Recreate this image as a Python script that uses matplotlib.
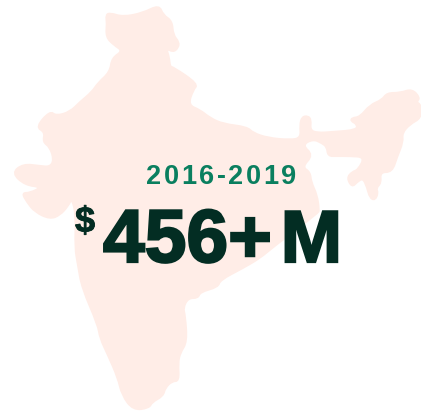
import matplotlib.pyplot as plt
import matplotlib.patheffects as pe
from matplotlib.font_manager import FontProperties
from matplotlib.patches import PathPatch
from matplotlib.path import Path
from matplotlib.textpath import TextPath

# outline of the map, clockwise from the northern tip
map_x = [159, 163, 172, 173, 179, 178, 173, 166, 169, 170, 173, 198, 193, 188, 200, 210,
         223, 247, 253, 268, 290, 301, 300, 302, 308, 311, 310, 317, 333, 357, 357, 351,
         352, 360, 370, 382, 387, 400, 412, 420, 416, 421, 421, 410, 402, 403, 397, 392,
         380, 381, 376, 378, 375, 370, 367, 363, 357, 352, 347, 352, 358, 365, 350, 337,
         328, 327, 322, 313, 302, 313, 302, 310, 311, 317, 319, 318, 273, 260, 243, 220,
         218, 200, 198, 188, 183, 185, 187, 180, 178, 179, 172, 165, 163, 152, 149, 133,
         122, 118, 108, 100, 98, 82, 78, 75, 76, 72, 68, 60, 50, 35, 27, 22, 30, 42, 25,
         12, 23, 40, 50, 54, 50, 43, 45, 36, 50, 56, 70, 80, 92, 98, 110, 112, 123, 114,
         106, 107, 106, 110, 123, 143]
map_y = [5, 15, 21, 35, 42, 48, 52, 48, 57, 67, 67, 84, 90, 105, 110, 118,
         124, 127, 133, 138, 140, 138, 125, 117, 116, 120, 130, 133, 132, 130, 124, 121,
         118, 117, 105, 100, 93, 93, 89, 98, 102, 105, 118, 124, 133, 142, 157, 172,
         172, 183, 188, 193, 200, 198, 187, 178, 182, 187, 178, 172, 170, 157, 156, 156,
         156, 147, 143, 139, 145, 155, 167, 172, 182, 195, 210, 213, 247, 258, 268, 280,
         287, 292, 298, 298, 308, 315, 342, 353, 363, 381, 381, 388, 396, 402, 408, 410,
         395, 378, 355, 338, 325, 288, 265, 248, 215, 198, 206, 215, 219, 212, 202, 193, 193, 187, 185,
         173, 164, 166, 167, 160, 147, 142, 132, 127, 111, 116, 112, 102, 92, 83, 72, 58, 51, 45,
         37, 23, 15, 13, 17, 13]

period = '2016-2019'
currency = '$'
amount = '456+'
unit = 'M'

PINK = '#FFEDE7'
GREEN = '#0A7F5F'
DARK = '#032D23'


# rounded outline: quadratic curves through the edge midpoints
def rounded_path(xs, ys):
    pts = list(zip(xs, ys))
    mids = [((pts[i][0] + pts[(i + 1) % len(pts)][0]) / 2,
             (pts[i][1] + pts[(i + 1) % len(pts)][1]) / 2) for i in range(len(pts))]
    verts = [mids[-1]]
    codes = [Path.MOVETO]
    for p, m in zip(pts, mids):
        verts += [p, m]
        codes += [Path.CURVE3, Path.CURVE3]
    return Path(verts, codes)


# matplotlib has no letter spacing, so place the characters one by one
def spaced_text(ax, x, y, s, size, spacing, color):
    fp = FontProperties(family='Liberation Sans', weight='bold')
    for ch in s:
        ax.text(x, y, ch, color=color, fontsize=size, fontproperties=fp, ha='left', va='baseline')
        adv = TextPath((0, 0), ch + 'n', size=size * 100 / 72, prop=fp).get_extents().x1 \
            - TextPath((0, 0), 'n', size=size * 100 / 72, prop=fp).get_extents().x1
        x += adv + spacing


fig = plt.figure(figsize=(4.21, 4.11), dpi=100)
ax = fig.add_axes([0, 0, 1, 1])
ax.set_xlim(0, 421)
ax.set_ylim(411, 0)
ax.axis('off')

ax.add_patch(PathPatch(rounded_path(map_x, map_y), facecolor=PINK, edgecolor=PINK, linewidth=1.5))

spaced_text(ax, 146, 184, period, 19.5, 2.6, GREEN)

heavy = [pe.withStroke(linewidth=1.6, foreground=DARK, joinstyle='miter')]
ax.text(75, 232, currency, color=DARK, fontsize=26, fontweight='bold', family='Liberation Sans',
        ha='left', va='baseline', path_effects=[pe.withStroke(linewidth=0.6, foreground=DARK)])
ax.text(103, 262, amount, color=DARK, fontsize=54, fontweight='bold', family='Liberation Sans',
        ha='left', va='baseline', path_effects=heavy)
ax.text(342, 262, unit, color=DARK, fontsize=53, fontweight='bold', family='Liberation Sans',
        ha='right', va='baseline', path_effects=heavy)

fig.savefig('out.png', dpi=100)
